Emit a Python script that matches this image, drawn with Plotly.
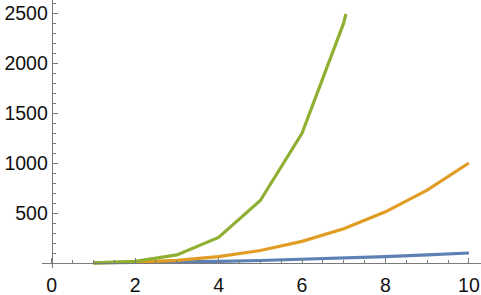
import plotly.graph_objects as go

# data: n, n^2, n^3, n^4 (Mathematica ListLinePlot style)
n_vals = [1, 2, 3, 4, 5, 6, 7, 8, 9, 10]
sq = [1, 4, 9, 16, 25, 36, 49, 64, 81, 100]
cube = [1, 8, 27, 64, 125, 216, 343, 512, 729, 1000]
quart = [1, 16, 81, 256, 625, 1296, 2401, 4096, 6561, 10000]

x_ticks = [0, 2, 4, 6, 8, 10]
y_ticks = [500, 1000, 1500, 2000, 2500]

Y_CLIP = 2490  # plot range clipping as in the original


def clip(xs, ys, ymax):
    ox, oy = [], []
    for i, (x, y) in enumerate(zip(xs, ys)):
        if y <= ymax:
            ox.append(x); oy.append(y)
        else:
            if i > 0 and ys[i - 1] <= ymax:
                x0, y0 = xs[i - 1], ys[i - 1]
                t = (ymax - y0) / (y - y0)
                ox.append(x0 + t * (x - x0)); oy.append(ymax)
            break
    return ox, oy


colors = ["#5E81B5", "#E19C24", "#8FB032"]
fig = go.Figure()
for ys, c in zip([sq, cube, quart], colors):
    cx, cy = clip(n_vals, ys, Y_CLIP)
    fig.add_trace(go.Scatter(x=cx, y=cy, mode="lines",
                             line=dict(color=c, width=3.2), showlegend=False,
                             hoverinfo="skip"))

L, B = 42, 27
W, H = 481, 295
xr = [-0.232, 10.29]
yr = [-50, 2630]
fig.update_layout(
    width=W, height=H,
    margin=dict(l=L, r=0, t=0, b=B),
    paper_bgcolor="white", plot_bgcolor="white",
    font=dict(family="Liberation Sans, Arial, sans-serif", size=19.5, color="#111111"),
    xaxis=dict(range=xr, showgrid=False, zeroline=False, showline=True,
               linecolor="#7a7a7a", linewidth=1,
               anchor="free", position=(0 - yr[0]) / (yr[1] - yr[0]),
               tickvals=x_ticks, ticks="inside", ticklen=5, tickcolor="#7a7a7a",
               ticklabelstandoff=5,
               minor=dict(dtick=0.5, ticks="inside", ticklen=3, tickcolor="#7a7a7a", showgrid=False)),
    yaxis=dict(range=yr, showgrid=False, zeroline=False, showline=True,
               linecolor="#7a7a7a", linewidth=1,
               anchor="free", position=(0 - xr[0]) / (xr[1] - xr[0]),
               tickvals=y_ticks, ticks="inside", ticklen=5, tickcolor="#7a7a7a",
               minor=dict(dtick=100, ticks="inside", ticklen=3, tickcolor="#7a7a7a", showgrid=False)),
)
fig.write_html("out.html")
